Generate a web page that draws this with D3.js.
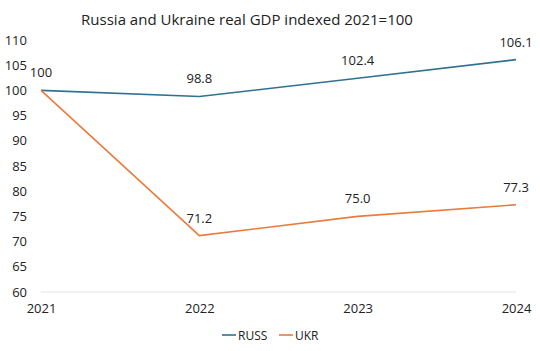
<!DOCTYPE html>
<html>
<head>
<meta charset="utf-8">
<script src="https://cdn.jsdelivr.net/npm/d3@7"></script>
<style>
  body { margin: 0; background: #fff; }
  text { font-family: 'Open Sans', 'Liberation Sans', sans-serif; fill: #222; }
</style>
</head>
<body>
<div id="chart"></div>
<script>
const years = ['2021', '2022', '2023', '2024']
const russ = [100, 98.8, 102.4, 106.1]
const ukr = [100, 71.2, 75.0, 77.3]
const russLabels = ['100', '98.8', '102.4', '106.1']
const ukrLabels = ['', '71.2', '75.0', '77.3']
const yTicks = [60, 65, 70, 75, 80, 85, 90, 95, 100, 105, 110]

const margin = { top: 40, right: 24, bottom: 59, left: 41 }
const width = 540 - margin.left - margin.right
const height = 351 - margin.top - margin.bottom

const svg = d3.select('#chart')
  .append('svg')
  .attr('width', 540)
  .attr('height', 351)

svg.append('text')
  .text('Russia and Ukraine real GDP indexed 2021=100')
  .attr('x', 247)
  .attr('y', 25)
  .attr('text-anchor', 'middle')
  .attr('font-size', '15px')

const g = svg.append('g')
  .attr('transform', 'translate(' + margin.left + ',' + margin.top + ')')

const x = d3.scalePoint().domain(years).range([0, width])
const y = d3.scaleLinear().domain([60, 110]).range([height, 0])

// baseline
g.append('line')
  .attr('x1', 0).attr('x2', width)
  .attr('y1', y(60)).attr('y2', y(60))
  .attr('stroke', '#e4e4e4')
  .attr('stroke-width', 1)

const yAxis = g.append('g')
  .call(d3.axisLeft(y).tickValues(yTicks).tickSize(0).tickPadding(14))
yAxis.select('.domain').remove()
yAxis.selectAll('text').attr('font-size', '13px').attr('fill', '#222')
  .style('font-family', "'Open Sans', 'Liberation Sans', sans-serif")

const xAxis = g.append('g')
  .attr('transform', 'translate(0,' + height + ')')
  .call(d3.axisBottom(x).tickSize(0).tickPadding(12))
xAxis.select('.domain').remove()
xAxis.selectAll('text').attr('font-size', '13px').attr('fill', '#222')
  .style('font-family', "'Open Sans', 'Liberation Sans', sans-serif")

const line = d3.line()
  .x((d, i) => x(years[i]))
  .y(d => y(d))

const series = [
  { name: 'RUSS', values: russ, labels: russLabels, color: '#2f7190', dy: -13 },
  { name: 'UKR', values: ukr, labels: ukrLabels, color: '#e97b3d', dy: -13 }
]

series.forEach(s => {
  g.append('path')
    .datum(s.values)
    .attr('d', line)
    .attr('fill', 'none')
    .attr('stroke', s.color)
    .attr('stroke-width', 1.6)

  g.selectAll('.lbl-' + s.name)
    .data(s.values)
    .enter()
    .append('text')
    .attr('class', 'lbl-' + s.name)
    .text((d, i) => s.labels[i])
    .attr('x', (d, i) => x(years[i]))
    .attr('y', d => y(d) + s.dy)
    .attr('text-anchor', 'middle')
    .attr('font-size', '13px')
})

// legend
const legend = svg.append('g').attr('transform', 'translate(222,335)')
const lx = [0, 57]
series.forEach((s, i) => {
  legend.append('line')
    .attr('x1', lx[i]).attr('x2', lx[i] + 14)
    .attr('y1', 0).attr('y2', 0)
    .attr('stroke', s.color)
    .attr('stroke-width', 1.6)
  legend.append('text')
    .text(s.name)
    .attr('x', lx[i] + 16)
    .attr('y', 4.5)
    .attr('font-size', '12px')
})
</script>
</body>
</html>
